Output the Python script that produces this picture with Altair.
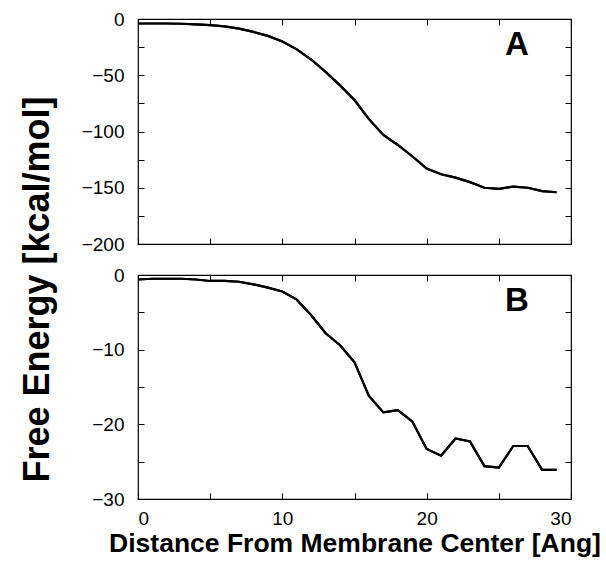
import altair as alt
import pandas as pd

# Distance from membrane center (Angstrom)
dist = list(range(30))

# Panel A free energy (kcal/mol)
energy_a = [-4, -4, -4, -4.2, -4.8, -5.5, -6.5, -8.5, -11.5, -15,
            -20, -27, -36, -47, -59, -72, -89, -103, -112, -122,
            -133, -138, -141, -145, -150, -151, -149, -150, -153, -154]

# Panel B free energy (kcal/mol)
energy_b = [-0.6, -0.5, -0.5, -0.5, -0.6, -0.8, -0.8, -0.9, -1.25, -1.7,
            -2.2, -3.3, -5.4, -7.8, -9.4, -11.7, -16.2, -18.4, -18.1, -19.6,
            -23.3, -24.2, -21.9, -22.3, -25.6, -25.8, -22.9, -22.9, -26.1, -26.1]

x_ticks = [0, 5, 10, 15, 20, 25, 30]
a_ticks = [0, -25, -50, -75, -100, -125, -150, -175, -200]
b_ticks = [0, -5, -10, -15, -20, -25, -30]

FONT = "Liberation Sans"
TICK = 6
W, H = 433, 225


def panel(values, ydom, yticks, ystep, letter, show_xlabels, ytitle):
    df = pd.DataFrame({"x": dist, "y": values})
    xs = alt.Scale(domain=[0, 30], nice=False, zero=False)
    ys = alt.Scale(domain=ydom, nice=False, zero=False)
    xlab = "datum.value % 10 == 0 ? format(datum.value, 'd') : ''"
    ylab = f"datum.value % {ystep} == 0 ? format(datum.value, 'd') : ''"
    x_ax = alt.Axis(values=x_ticks, labelExpr=xlab, labels=show_xlabels,
                    tickSize=TICK, offset=-TICK, domain=False, grid=False,
                    labelFontSize=19, labelPadding=10, labelColor="black",
                    tickColor="black",
                    title="Distance From Membrane Center [Ang]" if show_xlabels else None,
                    titleFontSize=26.5, titleFontWeight="bold", titlePadding=2,
                    titleColor="black")
    y_ax_kw = dict(values=yticks, labelExpr=ylab, tickSize=TICK, offset=-TICK,
                   domain=False, grid=False, labelFontSize=19, labelPadding=14,
                   labelColor="black", tickColor="black")
    if ytitle:
        y_ax = alt.Axis(**y_ax_kw, title="Free Energy [kcal/mol]",
                        titleFontSize=36, titleFontWeight="bold",
                        titleColor="black", titleX=-96, titleY=270,
                        titleBaseline="alphabetic", titleAngle=-90)
    else:
        y_ax = alt.Axis(**y_ax_kw, title=None)
    main = alt.Chart(df).mark_line(color="black", strokeWidth=2.2).encode(
        x=alt.X("x:Q", scale=xs, axis=x_ax),
        y=alt.Y("y:Q", scale=ys, axis=y_ax),
    )
    mirror = alt.Chart(df).mark_line(color="black", strokeWidth=2.2).encode(
        x=alt.X("x:Q", scale=xs, axis=alt.Axis(orient="top", values=x_ticks,
                labels=False, tickSize=TICK, offset=-TICK, domain=False,
                grid=False, title=None, tickColor="black")),
        y=alt.Y("y:Q", scale=ys, axis=alt.Axis(orient="right", values=yticks,
                labels=False, tickSize=TICK, offset=-TICK, domain=False,
                grid=False, title=None, tickColor="black")),
    )
    lab = alt.Chart(pd.DataFrame({"t": [letter]})).mark_text(
        font=FONT, fontSize=33, fontWeight="bold", color="black",
        align="center", baseline="middle",
    ).encode(text="t:N", x=alt.value(379), y=alt.value(26))
    return alt.layer(main, mirror, lab).resolve_axis(
        x="independent", y="independent").properties(width=W, height=H)


top = panel(energy_a, [-200, 0], a_ticks, 50, "A", False, True)
bottom = panel(energy_b, [-30, 0], b_ticks, 10, "B", True, False).properties(height=224)

chart = alt.vconcat(top, bottom, spacing=31, bounds="flush").properties(
    padding={"left": 18, "top": 9, "right": 0, "bottom": 0}
).configure(font=FONT).configure_view(stroke="black", strokeWidth=1.2)

chart.save("out.html", embed_options={"renderer": "svg", "actions": False})
